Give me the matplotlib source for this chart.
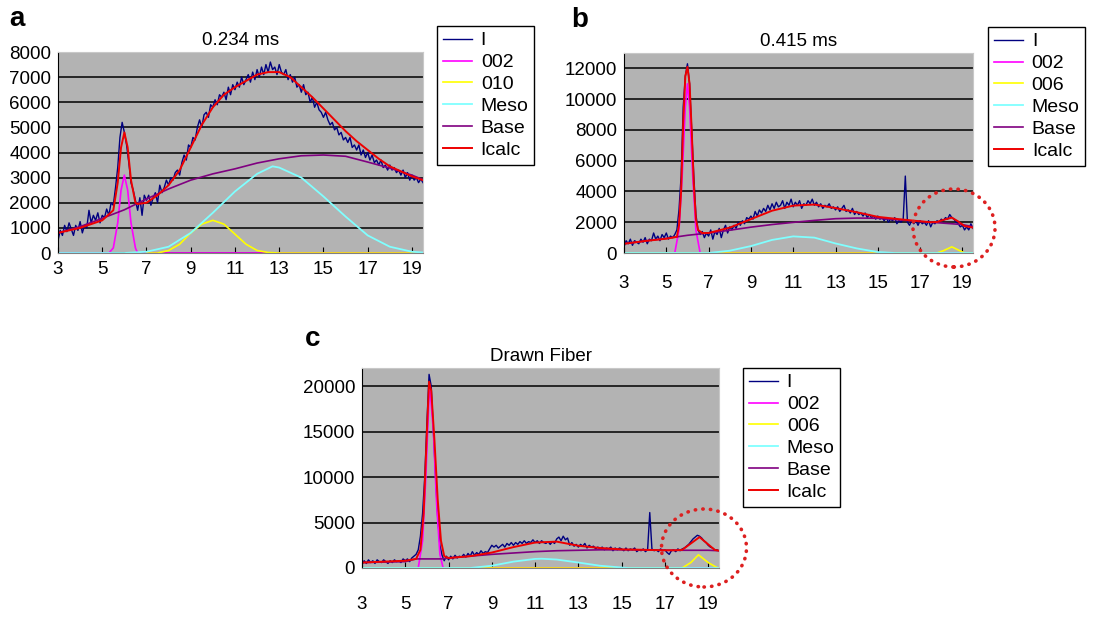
import matplotlib
matplotlib.use("Agg")
import matplotlib.pyplot as plt
import numpy as np
from matplotlib.patches import Ellipse

plt.rcParams['font.family'] = ['Liberation Sans', 'DejaVu Sans']

# ---------------- panel a : 0.234 ms ----------------
a_I = [500, 900, 700, 1100, 850, 1200, 950, 700, 1100, 900,
       1250, 800, 1100, 1000, 1700, 1200, 1500, 1300, 1600, 1200,
       1500, 1400, 1750, 1500, 2000, 1900, 2600, 3400, 4600, 5200,
       4800, 4300, 3600, 2800, 2500, 2100, 1700, 2200, 1500, 2300,
       2100, 2300, 1900, 2200, 2400, 2000, 2700, 2400, 2600, 2900,
       2700, 3000, 2900, 3200, 3300, 3100, 3600, 3900, 3700, 4300,
       4200, 4600, 4500, 5000, 5300, 5000, 5500, 5600, 5400, 5900,
       5800, 6100, 5900, 6300, 6200, 6400, 6100, 6600, 6300, 6700,
       6500, 6800, 6600, 7000, 6700, 6900, 7100, 6800, 7200, 6900,
       7300, 7000, 7400, 7100, 7500, 7200, 7600, 7300, 7400, 7100,
       7500, 7200, 7100, 7300, 6900, 7100, 6800, 7000, 6600, 6700,
       6400, 6700, 6300, 6400, 6000, 6200, 5800, 6000, 5700, 5600,
       5400, 5600, 5300, 5100, 5200, 4900, 5000, 4700, 4800, 4500,
       4600, 4400, 4600, 4200, 4300, 4100, 4300, 3900, 4100, 3800,
       4000, 3700, 3900, 3600, 3700, 3500, 3700, 3400, 3500, 3300,
       3500, 3300, 3400, 3200, 3300, 3100, 3300, 3000, 3200, 2900,
       3100, 2900, 3000, 2800, 2950, 2800]
a_002_x = [3, 5.3, 5.5, 5.7, 5.85, 6.0, 6.15, 6.3, 6.5, 6.6, 19.5]
a_002 = [0, 0, 200, 1200, 2500, 3100, 2500, 1200, 200, 0, 0]
a_010_x = [7, 7.5, 8, 8.5, 9, 9.5, 10, 10.5, 11, 11.5, 12, 12.5, 13, 19.5]
a_010 = [0, 0, 100, 350, 800, 1150, 1300, 1150, 750, 350, 100, 20, 0, 0]
a_meso_x = [3, 6, 7, 8, 9, 10, 11, 12, 12.7, 13, 14, 15, 16, 17, 18, 19, 19.5]
a_meso = [0, 0, 50, 250, 800, 1600, 2450, 3150, 3450, 3400, 3000, 2250, 1450, 700, 250, 50, 20]
a_base_x = [3, 4, 5, 6, 7, 8, 9, 10, 11, 12, 13, 14, 15, 16, 17, 18, 19, 19.5]
a_base = [800, 1050, 1380, 1720, 2150, 2550, 2900, 3150, 3350, 3580, 3750, 3870, 3900, 3850, 3620, 3380, 3100, 2920]
a_calc_x = [3, 4, 5, 5.5, 5.7, 5.85, 6.0, 6.15, 6.3, 6.5, 6.6, 7, 7.5, 8, 8.5, 9, 9.5, 10, 10.5, 11,
            11.5, 12, 12.5, 13, 13.5, 14, 14.5, 15, 15.5, 16, 16.5, 17, 17.5, 18, 18.5, 19, 19.5]
a_calc = [800, 1000, 1300, 1700, 2800, 4200, 4800, 4200, 2900, 2000, 1950, 2000, 2300, 2700, 3300, 4200,
          5100, 5800, 6300, 6600, 6850, 7100, 7200, 7200, 7000, 6600, 6200, 5750, 5300, 4850, 4450,
          4100, 3750, 3450, 3250, 3050, 2900]

# ---------------- panel b : 0.415 ms ----------------
b_I = [400, 800, 600, 900, 500, 800, 700, 600, 900, 700,
       1000, 600, 900, 800, 1300, 900, 1100, 800, 1200, 1000,
       1300, 900, 1100, 1000, 1200, 1500, 2800, 5000, 9500, 11500,
       12300, 11000, 8000, 5000, 2500, 1500, 1200, 1400, 1000, 1300,
       1100, 1500, 900, 1400, 1200, 1600, 1000, 1500, 1800, 1300,
       1700, 1500, 1800, 1600, 2000, 1800, 2100, 1900, 2300, 2200,
       2400, 2200, 2700, 2400, 2800, 2600, 2900, 2700, 3100, 2800,
       3200, 2900, 3300, 3000, 3100, 3400, 2900, 3300, 3100, 3500,
       3000, 3300, 3100, 3400, 2900, 3200, 3100, 3400, 3200, 3500,
       3100, 3300, 3000, 3200, 2900, 3100, 3000, 3200, 2900, 3000,
       2800, 3000, 2700, 2900, 3100, 2700, 2800, 2600, 2900, 2500,
       2700, 2500, 2600, 2400, 2600, 2300, 2500, 2300, 2400, 2200,
       2400, 2200, 2300, 2100, 2300, 2000, 2200, 2100, 2300, 1900,
       2100, 2000, 2200, 5000, 2000, 1800, 2100, 1900, 2100, 1800,
       2100, 1900, 2000, 1800, 2100, 1700, 2000, 1900, 2100, 2000,
       2200, 2100, 2300, 2200, 2500, 2300, 2200, 2000, 1900, 1700,
       1800, 1500, 1700, 1500, 1900, 1600]
b_002_x = [3, 5.4, 5.6, 5.75, 5.9, 6.0, 6.1, 6.25, 6.4, 6.6, 19.5]
b_002 = [0, 0, 1500, 5000, 9500, 11000, 9500, 5000, 1500, 0, 0]
b_006_x = [3, 17.8, 18.1, 18.5, 18.8, 19.1, 19.5]
b_006 = [0, 0, 150, 400, 200, 0, 0]
b_meso_x = [3, 7, 8, 9, 10, 11, 12, 13, 14, 15, 15.8, 19.5]
b_meso = [0, 0, 150, 450, 850, 1080, 1000, 620, 300, 60, 0, 0]
b_base_x = [3, 4, 5, 6, 7, 8, 9, 10, 11, 12, 13, 14, 15, 16, 17, 18, 19, 19.5]
b_base = [600, 780, 950, 1150, 1300, 1480, 1680, 1850, 1990, 2120, 2230, 2270, 2260, 2150, 2050, 1950, 1850, 1700]
b_calc_x = [3, 4, 5, 5.5, 5.6, 5.7, 5.8, 5.9, 6.0, 6.1, 6.2, 6.3, 6.4, 6.5, 6.7, 7, 8, 9, 10, 11, 12, 13,
            14, 15, 16, 17, 17.5, 17.8, 18.1, 18.5, 18.8, 19.1, 19.5]
b_calc = [600, 780, 930, 1050, 1800, 4000, 8500, 11500, 12100, 11000, 8000, 4500, 2200, 1500, 1300, 1300,
          1650, 2200, 2750, 3080, 3150, 2920, 2650, 2350, 2200, 2060, 2000, 2020, 2150, 2300, 2050, 1750, 1650]

# ---------------- panel c : Drawn Fiber ----------------
c_I = [400, 800, 500, 900, 600, 800, 500, 900, 700, 600,
       900, 700, 500, 800, 600, 900, 700, 800, 600, 1000,
       800, 1000, 700, 1100, 1300, 1500, 2000, 3500, 6000, 10000,
       16000, 21300, 20000, 15000, 10000, 5500, 2500, 1400, 800, 1300,
       900, 1300, 1000, 1400, 1100, 1300, 1200, 1500, 1200, 1600,
       1300, 1800, 1400, 1700, 1500, 1900, 1600, 1800, 1700, 2100,
       2500, 2300, 2500, 2200, 2400, 2600, 2300, 2700, 2500, 2800,
       2500, 2800, 2600, 2900, 2700, 3000, 2700, 2900, 2800, 3100,
       2800, 3000, 2700, 3000, 2800, 2700, 2900, 2600, 2900, 2700,
       3200, 3400, 3000, 3500, 3100, 3300, 2500, 2800, 2400, 2600,
       2300, 2600, 2400, 2700, 2200, 2500, 2300, 2400, 2100, 2300,
       2100, 2300, 2000, 2200, 2100, 2300, 1900, 2200, 2000, 2200,
       2100, 1900, 2200, 1900, 2100, 2000, 2200, 1800, 2000, 1900,
       2100, 1800, 2000, 6100, 2100, 1900, 2000, 1800, 2100, 1900,
       2000, 1700, 1500, 1900, 2000, 1800, 2100, 1900, 2100, 2200,
       2400, 2600, 2900, 3200, 3400, 3600, 3500, 3300, 3000, 2800,
       2500, 2300, 2200, 2000, 2000, 1900]
c_002_x = [3, 5.6, 5.8, 5.95, 6.1, 6.15, 6.3, 6.45, 6.6, 6.75, 19.5]
c_002 = [0, 0, 3000, 10000, 19000, 19500, 15000, 7000, 1500, 0, 0]
c_006_x = [3, 17.8, 18.2, 18.55, 19.0, 19.4, 19.5]
c_006 = [0, 0, 600, 1450, 600, 50, 0]
c_meso_x = [3, 8, 9, 10, 11, 11.3, 12, 13, 14, 15, 15.3, 19.5]
c_meso = [0, 0, 250, 700, 1000, 1020, 930, 600, 250, 50, 0, 0]
c_base_x = [3, 5, 5.5, 6.7, 7, 8, 9, 10, 11, 12, 13, 14, 15, 16, 17, 18, 19, 19.5]
c_base = [600, 700, 1000, 1000, 1100, 1300, 1500, 1650, 1800, 1900, 1950, 2000, 2000, 2000, 1950, 1950, 1950, 1900]
c_calc_x = [3, 4, 5, 5.5, 5.7, 5.85, 6.0, 6.1, 6.2, 6.35, 6.5, 6.65, 6.8, 7, 8, 9, 10, 11, 12, 13, 14,
            15, 16, 17, 17.5, 17.8, 18.2, 18.6, 19.0, 19.3, 19.5]
c_calc = [600, 700, 800, 1000, 2000, 6000, 15000, 20500, 19500, 14000, 7500, 3000, 1300, 1100, 1300, 1700,
          2300, 2800, 2900, 2450, 2200, 2050, 2000, 1950, 1950, 2000, 2700, 3400, 2600, 2000, 1900]

x_ticks = [3, 5, 7, 9, 11, 13, 15, 17, 19]
W, H = 1096, 617


def px(l, t, r, b):
    return [l / W, 1 - b / H, (r - l) / W, (b - t) / H]


def panel(fig, rect, title, I, comps, peak_label, ymax, ystep, xpad, leg_xy):
    ax = fig.add_axes(px(*rect))
    ax.set_facecolor('#b3b3b3')
    x = np.linspace(3, 19.5, len(I))
    h = []
    h += ax.plot(x, I, color='#000080', lw=1.0)
    h += ax.plot(comps[0][0], comps[0][1], color='#ff00ff', lw=1.2)
    h += ax.plot(comps[1][0], comps[1][1], color='#ffff00', lw=1.2)
    h += ax.plot(comps[2][0], comps[2][1], color='#80ffff', lw=1.3)
    h += ax.plot(comps[3][0], comps[3][1], color='#800080', lw=1.2)
    h += ax.plot(comps[4][0], comps[4][1], color='#ee0000', lw=1.4)
    ax.set_xlim(3, 19.5)
    ax.set_ylim(0, ymax)
    ax.set_yticks(np.arange(0, ymax, ystep))
    ax.set_xticks(x_ticks)
    ax.yaxis.grid(True, color='black', lw=1.1)
    ax.set_axisbelow(True)
    ax.tick_params(axis='y', length=0, pad=5, labelsize=13.5)
    ax.tick_params(axis='x', direction='in', length=4, pad=xpad, labelsize=13.5)
    for s in ['top', 'right']:
        ax.spines[s].set_color('#c8c8c8')
    ax.spines['left'].set_color('black')
    ax.spines['bottom'].set_color('#808080')
    ax.set_title(title, fontsize=13.5, pad=5)
    fig.legend(h, ['I', '002', peak_label, 'Meso', 'Base', 'Icalc'],
               loc='upper left', bbox_to_anchor=(leg_xy[0] / W, 1 - leg_xy[1] / H),
               bbox_transform=fig.transFigure, fontsize=14, frameon=True, fancybox=False,
               edgecolor='black', framealpha=1, handlelength=1.5, handletextpad=0.45,
               labelspacing=0.22, borderpad=0.3, borderaxespad=0)
    return ax


fig = plt.figure(figsize=(W / 100, H / 100), dpi=100)

panel(fig, (58, 52, 423, 253), '0.234 ms', a_I,
      [(a_002_x, a_002), (a_010_x, a_010), (a_meso_x, a_meso), (a_base_x, a_base), (a_calc_x, a_calc)],
      '010', 8000.1, 1000, 6, (437, 26))
panel(fig, (624, 53, 973, 253), '0.415 ms', b_I,
      [(b_002_x, b_002), (b_006_x, b_006), (b_meso_x, b_meso), (b_base_x, b_base), (b_calc_x, b_calc)],
      '006', 13000, 2000, 16, (988, 27))
panel(fig, (362, 368, 719, 568), 'Drawn Fiber', c_I,
      [(c_002_x, c_002), (c_006_x, c_006), (c_meso_x, c_meso), (c_base_x, c_base), (c_calc_x, c_calc)],
      '006', 22000, 5000, 20, (743, 368))

for lab, xx, yy in [('a', 9, 26), ('b', 571, 27), ('c', 305, 346)]:
    fig.text(xx / W, 1 - yy / H, lab, fontsize=20, fontweight='bold', va='baseline', ha='left')

for cx, cy, w, h in [(954, 228, 82, 78), (704, 548, 85, 78)]:
    fig.add_artist(Ellipse((cx / W, 1 - cy / H), w / W, h / H, transform=fig.transFigure,
                           fill=False, ec='#dd2020', lw=2.6, ls=(0, (0.1, 2.0)), capstyle='round'))

fig.savefig('out.png', dpi=100)
